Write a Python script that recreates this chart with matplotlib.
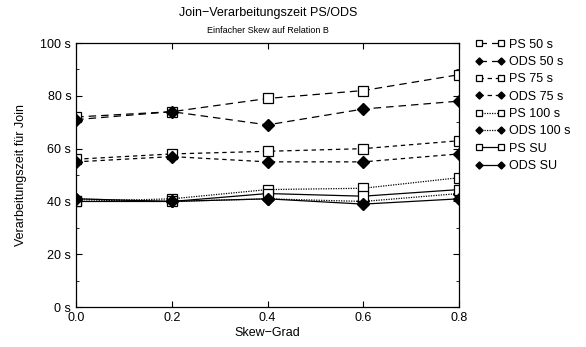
import matplotlib
matplotlib.use("Agg")
import matplotlib.pyplot as plt
from matplotlib.ticker import MultipleLocator, FuncFormatter

plt.rcParams['font.family'] = ['Liberation Sans', 'DejaVu Sans']

skew = [0.0, 0.2, 0.4, 0.6, 0.8]

ps_50 = [72, 74, 79, 82, 88]
ods_50 = [71, 74, 69, 75, 78]
ps_75 = [56, 58, 59, 60, 63]
ods_75 = [55, 57, 55, 55, 58]
ps_100 = [40, 41, 44.5, 45, 49]
ods_100 = [41, 40, 41, 40, 43]
ps_su = [40, 40, 43, 42, 44.5]
ods_su = [41, 40, 41, 39, 41]

labels = ["PS 50 s", "ODS 50 s", "PS 75 s", "ODS 75 s",
          "PS 100 s", "ODS 100 s", "PS SU", "ODS SU"]
series = [ps_50, ods_50, ps_75, ods_75, ps_100, ods_100, ps_su, ods_su]

dash_long = (0, (6, 4))
dash_short = (0, (3.5, 3))
dotted = (0, (1, 1))
styles = [dash_long, dash_long, dash_short, dash_short, dotted, dotted, '-', '-']

fig = plt.figure(figsize=(5.86, 3.47), dpi=100)
ax = fig.add_axes([0.13, 0.115, 0.653, 0.761])

for vals, lab, ls in zip(series, labels, styles):
    if lab.startswith("PS"):
        ax.plot(skew, vals, color='black', lw=0.9, linestyle=ls, marker='s',
                markersize=7, markerfacecolor='white', markeredgecolor='black',
                markeredgewidth=0.9, label=lab)
    else:
        ax.plot(skew, vals, color='black', lw=0.9, linestyle=ls, marker='D',
                markersize=6, markerfacecolor='black', markeredgecolor='black',
                label=lab)

ax.set_xlim(0.0, 0.8)
ax.set_ylim(0, 100)
ax.xaxis.set_major_locator(MultipleLocator(0.2))
ax.yaxis.set_major_locator(MultipleLocator(20))
ax.yaxis.set_minor_locator(MultipleLocator(10))
ax.xaxis.set_major_formatter(FuncFormatter(lambda v, p: f"{v:.1f}"))
ax.yaxis.set_major_formatter(FuncFormatter(lambda v, p: f"{int(v)} s"))
ax.tick_params(which='both', direction='in', top=True, right=True, labelsize=9)
ax.tick_params(which='major', length=4)
ax.tick_params(which='minor', length=2)
for s in ax.spines.values():
    s.set_linewidth(0.9)

ax.set_xlabel("Skew\u2212Grad", fontsize=9, labelpad=2)
ax.set_ylabel("Verarbeitungszeit f\u00fcr Join", fontsize=9, labelpad=10)

fig.text(0.457, 0.955, "Join\u2212Verarbeitungszeit PS/ODS", ha='center', fontsize=9)
fig.text(0.457, 0.905, "Einfacher Skew auf Relation B", ha='center', fontsize=6.5)

leg = ax.legend(loc='upper left', bbox_to_anchor=(1.02, 1.05), numpoints=2,
                frameon=False, fontsize=9, handlelength=2.4, handletextpad=0.3,
                labelspacing=0.43, borderaxespad=0.3, markerscale=0.6)

plt.savefig("out.png", dpi=100)
plt.close()
